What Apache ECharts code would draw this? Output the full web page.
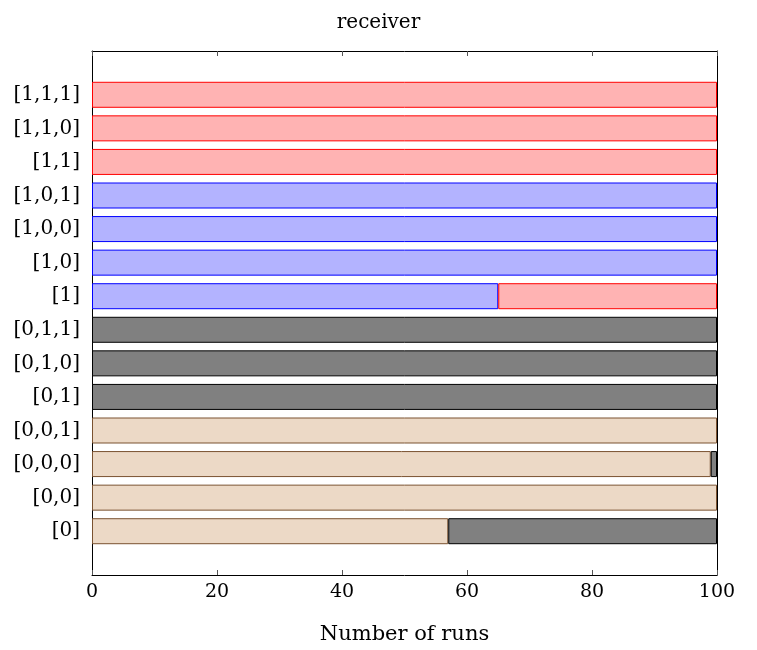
<!DOCTYPE html>
<html><head><meta charset="utf-8">
<script src="https://cdn.jsdelivr.net/npm/echarts@6/dist/echarts.min.js"></script>
<style>html,body{margin:0;padding:0;background:#fff}#c{width:757px;height:650px}</style>
</head><body><div id="c"></div>
<script>
const categories = ['[0]','[0,0]','[0,0,0]','[0,0,1]','[0,1]','[0,1,0]','[0,1,1]','[1]','[1,0]','[1,0,0]','[1,0,1]','[1,1]','[1,1,0]','[1,1,1]'];
const tanValues  = [57,100,99,100,null,null,null,null,null,null,null,null,null,null];
const grayValues = [43,null,1,null,100,100,100,null,null,null,null,null,null,null];
const blueValues = [null,null,null,null,null,null,null,65,100,100,100,null,null,null];
const redValues  = [null,null,null,null,null,null,null,35,null,null,null,100,100,100];
const xTicks = [0,20,40,60,80,100];

const F = 'DejaVu Serif';
const chart = echarts.init(document.getElementById('c'));
function bar(name, data, fill, border) {
  return {name, type:'bar', stack:'s', xAxisIndex:2, yAxisIndex:2, data,
    barWidth:26, itemStyle:{color:fill, borderColor:border, borderWidth:1}, animation:false};
}
const frameLine = {show:true, onZero:false, lineStyle:{color:'#000', width:1}};
chart.setOption({
  animation:false,
  title:{text:'receiver', left:'center', top:8, textStyle:{fontFamily:F, fontSize:20, fontWeight:'normal', color:'#000'}},
  grid:[
    {left:92, right:40, top:51, bottom:74},
    {left:92, right:40, top:78, bottom:102}
  ],
  xAxis:[
    {gridIndex:0, type:'value', min:0, max:100, interval:20, position:'bottom',
     name:'Number of runs', nameLocation:'middle', nameGap:49, nameTextStyle:{fontFamily:F, fontSize:21, color:'#000'},
     axisLine:frameLine, axisTick:{show:true, inside:true, length:5, lineStyle:{color:'#555'}},
     axisLabel:{fontFamily:F, fontSize:19, color:'#000', margin:8, formatter:v=>xTicks.includes(v)?String(v):''},
     splitLine:{show:false}},
    {gridIndex:0, type:'value', min:0, max:100, interval:20, position:'top',
     axisLine:frameLine, axisTick:{show:true, inside:true, length:5, lineStyle:{color:'#555'}},
     axisLabel:{show:false}, splitLine:{show:false}},
    {gridIndex:1, type:'value', min:0, max:100, show:false, splitLine:{show:false}}
  ],
  yAxis:[
    {gridIndex:0, type:'value', min:0, max:1, position:'left', axisLine:frameLine,
     axisTick:{show:false}, axisLabel:{show:false}, splitLine:{show:false}},
    {gridIndex:0, type:'value', min:0, max:1, position:'right', axisLine:frameLine,
     axisTick:{show:false}, axisLabel:{show:false}, splitLine:{show:false}},
    {gridIndex:1, type:'category', data:categories, axisLine:{show:false}, axisTick:{show:false},
     axisLabel:{fontFamily:F, fontSize:20, color:'#000', margin:12}, splitLine:{show:false}}
  ],
  series:[
    bar('tan', tanValues, '#ECD9C6', '#7A5230'),
    bar('gray', grayValues, '#808080', '#000000'),
    bar('blue', blueValues, '#B3B3FF', '#0000FF'),
    bar('red', redValues, '#FFB3B3', '#FF0000')
  ]
});
</script></body></html>
